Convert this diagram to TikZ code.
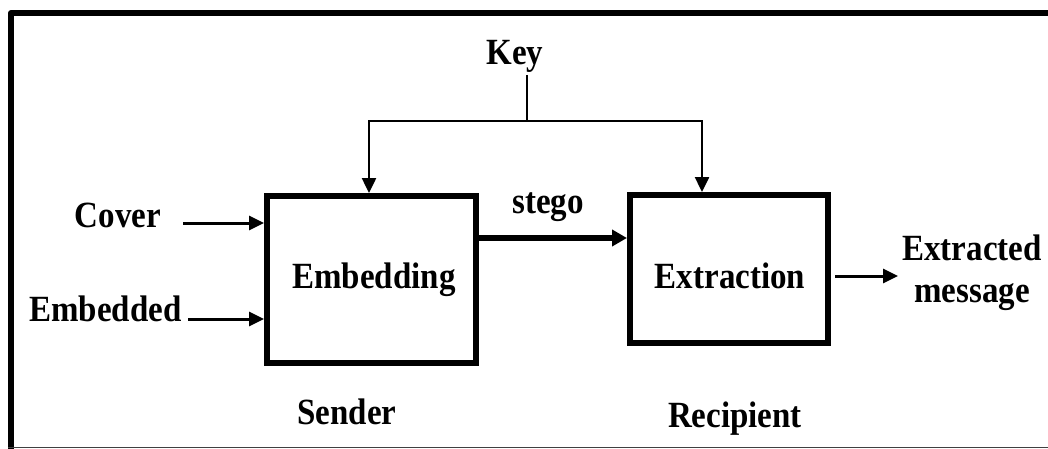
\documentclass[tikz,border=0pt]{standalone}
\usepackage{fontspec}
\setmainfont{Liberation Serif}
\usetikzlibrary{arrows.meta}
\newcommand{\tallt}[1]{\scalebox{1}[1.12]{#1}}
\tikzset{
  lbl/.style={inner sep=0pt, anchor=base, font=\fontsize{33}{40}\selectfont\bfseries},
  blockbox/.style={draw, line width=6pt, inner sep=0pt},
  keyl/.style={line width=2.5pt},
  tip/.style={-{Triangle[length=15pt,width=14pt]}},
  inarr/.style={line width=3pt, tip},
  stegoarr/.style={line width=6pt, -{Triangle[length=15pt,width=16pt]}}
}
\begin{document}
\begin{tikzpicture}[x=1pt,y=-1pt]
\useasboundingbox (0,0) rectangle (1048,449);
% frame
\coordinate (fbl) at (11,449);
\coordinate (ftl) at (11,13);
\coordinate (ftr) at (1048,13);
\draw[line width=6pt, line join=round] (fbl) -- (ftl) -- (ftr);
\coordinate (bl) at (8,447.5);
\coordinate (br) at (1048,447.5);
\draw[line width=1.5pt, black!75] (bl) -- (br);
% blocks
\node[blockbox, minimum width=209pt, minimum height=167pt] (emb) at (371.5,279.5) {};
\node[blockbox, minimum width=198pt, minimum height=148pt] (ext) at (729,269) {};
\node[lbl] (embt) at (374,288) {\tallt{Embedding}};
\node[lbl] (extt) at (730,288) {\tallt{Extraction}};
% labels
\node[lbl] (key) at (515,65) {\tallt{Key}};
\node[lbl] (cover) at (118,227) {\tallt{Cover}};
\node[lbl] (embd) at (105.5,321) {\tallt{Embedded}};
\node[lbl] (stego) at (548,213) {\tallt{stego}};
\node[lbl] (out1) at (972,260) {\tallt{Extracted}};
\node[lbl] (out2) at (972,302) {\tallt{message}};
\node[lbl] (sender) at (347,424) {\tallt{Sender}};
\node[lbl] (recip) at (735,427) {\tallt{Recipient}};
% key lines
\coordinate (ktop) at (527,75);
\coordinate (kj) at (527,121);
\coordinate (kl) at (369,121);
\coordinate (kr) at (702,121);
\draw[keyl] (ktop) -- (kj);
\draw[keyl, tip] (kj) -- (kl) -- (kl |- emb.north);
\draw[keyl, tip] (kj) -- (kr) -- (kr |- ext.north);
% inputs
\coordinate (cs) at (183,223);
\coordinate (es) at (188,319);
\draw[inarr] (cs) -- (cs -| emb.west);
\draw[inarr] (es) -- (es -| emb.west);
% stego
\coordinate (sg) at (0,238);
\draw[stegoarr] (sg -| emb.east) -- (sg -| ext.west);
% output
\coordinate (os) at (835,276);
\coordinate (oe) at (898,276);
\draw[inarr] (os) -- (oe);
\end{tikzpicture}
\end{document}
